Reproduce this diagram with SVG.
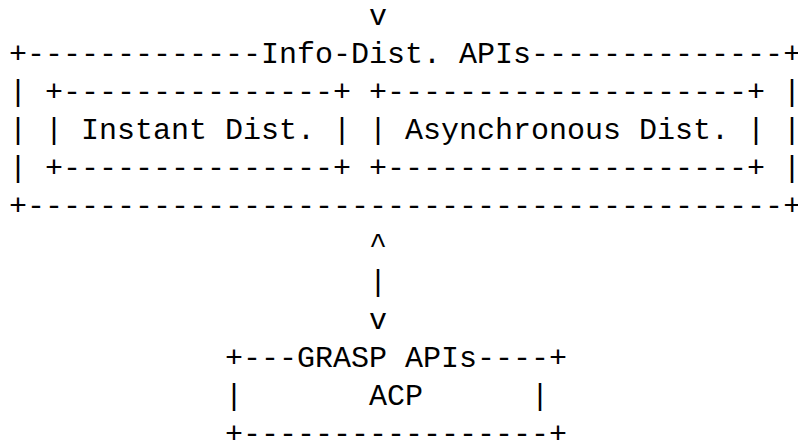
<svg xmlns="http://www.w3.org/2000/svg" width="798" height="440" viewBox="0 0 798 440" xml:space="preserve">
<style>
  text { font-family: "Liberation Mono", "DejaVu Sans Mono", monospace; font-size: 30px; fill: #000; white-space: pre; }
</style>
<rect width="798" height="440" fill="#fff"/>
<g id="connectors">
  <text x="369" y="25">v</text>
  <text x="369" y="253">^</text>
  <text x="369" y="291">|</text>
  <text x="369" y="329">v</text>
</g>
<g id="info-dist-apis">
  <text x="9" y="63">+-------------Info-Dist. APIs--------------+</text>
  <text x="9" y="101">|</text><text x="783" y="101">|</text>
  <text x="9" y="139">|</text><text x="783" y="139">|</text>
  <text x="9" y="177">|</text><text x="783" y="177">|</text>
  <text x="9" y="215">+------------------------------------------+</text>
</g>
<g id="instant-dist">
  <text x="45" y="101">+---------------+</text>
  <text x="45" y="139">| Instant Dist. |</text>
  <text x="45" y="177">+---------------+</text>
</g>
<g id="async-dist">
  <text x="369" y="101">+--------------------+</text>
  <text x="369" y="139">| Asynchronous Dist. |</text>
  <text x="369" y="177">+--------------------+</text>
</g>
<g id="grasp-apis">
  <text x="225" y="367">+---GRASP APIs----+</text>
  <text x="225" y="405">|       ACP      |</text>
  <text x="225" y="443">+-----------------+</text>
</g>
</svg>
